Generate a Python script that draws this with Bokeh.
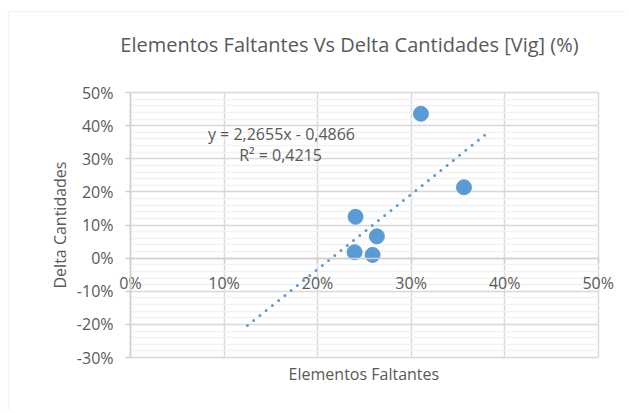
from bokeh.plotting import figure
from bokeh.models import (Range1d, SingleIntervalTicker, NumeralTickFormatter,
                          Label, ColumnDataSource, LinearAxis, Grid, BoxAnnotation)
from bokeh.embed import file_html
from bokeh.resources import INLINE

# ---- data ----
elementos_faltantes = [0.3105, 0.3565, 0.2406, 0.2634, 0.2396, 0.2588]
delta_cantidades = [0.436, 0.214, 0.125, 0.066, 0.018, 0.010]
trend_slope = [2.2655]
trend_intercept = [-0.4866]
trend_r2 = [0.4215]
trend_x = [0.125, 0.381]
x_axis_min, x_axis_max = 0.0, 0.5
y_axis_min, y_axis_max = -0.3, 0.5
title_text = "Elementos Faltantes Vs Delta Cantidades [Vig] (%)"
x_title = "Elementos Faltantes"
y_title = "Delta Cantidades"

FONT = "Open Sans"
TXT = "#595959"
BLUE = "#5B9BD5"
GRID = "#D9D9D9"
EPS = 1e-4

# the frame covers the whole canvas; the plot area is bounded by axes/grids
p = figure(width=625, height=410,
           x_range=Range1d(-0.138978, 0.529185),
           y_range=Range1d(-0.459774, 0.777962),
           x_axis_type=None, y_axis_type=None, title_location=None,
           output_backend="svg", toolbar_location=None, min_border=0)
p.background_fill_color = "white"
p.border_fill_color = "white"
p.outline_line_color = None

# chart-area border (top/left visible)
p.add_layout(BoxAnnotation(left=-0.13043, right=1.0, top=0.74476, bottom=-1.0,
                           fill_color=None, line_color=GRID, line_width=1.5))

xt = SingleIntervalTicker(interval=0.1, num_minor_ticks=0)
yt = SingleIntervalTicker(interval=0.1, num_minor_ticks=5)

xgrid = Grid(dimension=0, ticker=xt, bounds=(x_axis_min, x_axis_max + EPS),
             cross_bounds=(y_axis_min, y_axis_max),
             grid_line_color=GRID, grid_line_width=1.5)
ygrid = Grid(dimension=1, ticker=yt, bounds=(y_axis_min - EPS, y_axis_max + EPS),
             cross_bounds=(x_axis_min, x_axis_max),
             grid_line_color=GRID, grid_line_width=1.5,
             minor_grid_line_color="#F2F2F2", minor_grid_line_width=1.5)
p.add_layout(xgrid)
p.add_layout(ygrid)

fmt = NumeralTickFormatter(format="0%")
xaxis = LinearAxis(ticker=xt, formatter=fmt, fixed_location=0,
                   bounds=(x_axis_min, x_axis_max + EPS))
yaxis = LinearAxis(ticker=yt, formatter=fmt, fixed_location=0,
                   bounds=(y_axis_min - EPS, y_axis_max + EPS),
                   axis_label=y_title)
for ax in (xaxis, yaxis):
    ax.axis_line_color = "#D0D0D0"
    ax.axis_line_width = 1.5
    ax.major_tick_line_color = "#D0D0D0"
    ax.major_tick_line_width = 1.5
    ax.major_tick_in = 0
    ax.major_tick_out = 5
    ax.minor_tick_line_color = None
    ax.major_label_text_font = FONT
    ax.major_label_text_font_size = "16px"
    ax.major_label_text_color = TXT
    ax.axis_label_text_font = FONT
    ax.axis_label_text_font_size = "16px"
    ax.axis_label_text_font_style = "normal"
    ax.axis_label_text_color = TXT
xaxis.major_label_standoff = 9
yaxis.major_label_standoff = 12
yaxis.axis_label_standoff = 3
p.add_layout(xaxis, "below")
p.add_layout(yaxis, "left")

# title and x axis title
p.add_layout(Label(x=0.2341, y=0.6451, text=title_text, text_align="center",
                   text_baseline="middle", text_font=FONT,
                   text_font_size="20px", text_color=TXT))
p.add_layout(Label(x=0.2495, y=-0.3481, text=x_title, text_align="center",
                   text_baseline="middle", text_font=FONT,
                   text_font_size="16px", text_color=TXT))

# trendline
ty = [trend_slope[0] * x + trend_intercept[0] for x in trend_x]
p.line(trend_x, ty, line_color=BLUE, line_width=3, line_dash="0 8",
       line_cap="round")

# points
src = ColumnDataSource(dict(x=elementos_faltantes, y=delta_cantidades))
p.scatter("x", "y", source=src, size=15, fill_color=BLUE, line_color=BLUE)

# equation
eq = "y = " + str(trend_slope[0]).replace(".", ",") + "x - " + \
     str(abs(trend_intercept[0])).replace(".", ",")
r2 = "R\u00b2 = " + str(trend_r2[0]).replace(".", ",")
p.add_layout(Label(x=0.1614, y=0.3755, text=eq, text_align="center",
                   text_baseline="middle", text_font=FONT,
                   text_font_size="16px", text_color=TXT))
p.add_layout(Label(x=0.1604, y=0.3121, text=r2, text_align="center",
                   text_baseline="middle", text_font=FONT,
                   text_font_size="16px", text_color=TXT))

open("out.html", "w").write(file_html(p, INLINE))
